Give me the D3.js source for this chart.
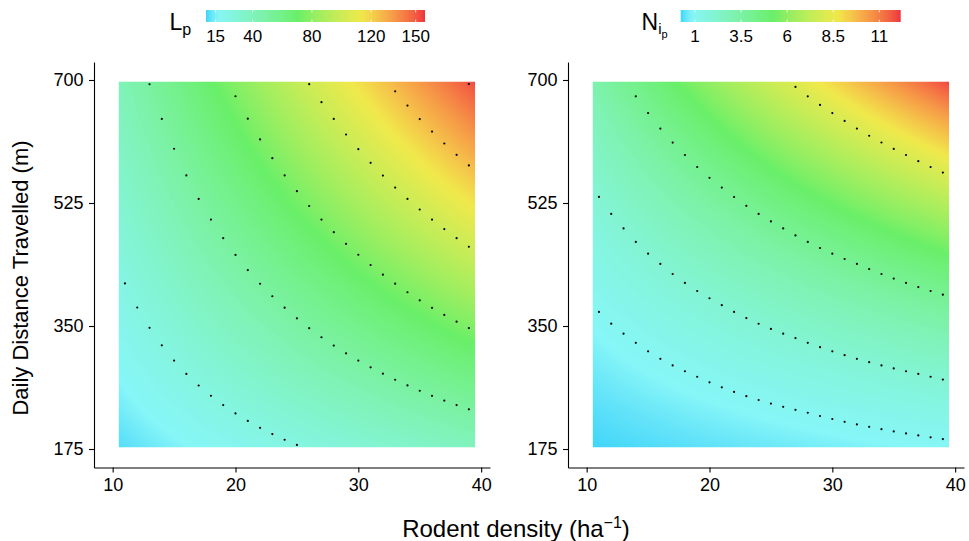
<!DOCTYPE html>
<html><head><meta charset="utf-8">
<script src="https://cdn.jsdelivr.net/npm/d3@7"></script>
<style>
body{margin:0;background:#fff}
svg{display:block}
text{font-family:"Liberation Sans",Arial,Helvetica,sans-serif;fill:#000}
</style>
</head><body>
<svg id="chart" width="969" height="541"></svg>
<script>
// ---------------- data ----------------
const densityGrid = [10, 15, 20, 25, 30, 35, 40];
const distanceGrid = [175, 227.5, 280, 332.5, 385, 437.5, 490, 542.5, 595, 647.5, 700];
// L_p : one row per density value, columns follow distanceGrid
const lpValues = [
  [9.7, 12.6, 15.5, 18.4, 21.3, 24.2, 27.1, 30.1, 33.0, 35.9, 38.8],
  [14.5, 18.9, 23.3, 27.6, 32.0, 36.4, 40.7, 45.1, 49.4, 53.8, 58.2],
  [19.4, 25.2, 31.0, 36.8, 42.7, 48.5, 54.3, 60.1, 65.9, 71.7, 77.6],
  [24.2, 31.5, 38.8, 46.1, 53.3, 60.6, 67.9, 75.1, 82.4, 89.7, 97.0],
  [29.1, 37.8, 46.5, 55.3, 64.0, 72.7, 81.4, 90.2, 98.9, 107.6, 116.3],
  [33.9, 44.1, 54.3, 64.5, 74.7, 84.8, 95.0, 105.2, 115.4, 125.6, 135.7],
  [38.8, 50.4, 62.1, 73.7, 85.3, 97.0, 108.6, 120.2, 131.9, 143.5, 155.1]
];
// N_ip : one row per density value, columns follow distanceGrid
const niValues = [
  [0.218, 0.360, 0.533, 0.739, 0.977, 1.246, 1.545, 1.874, 2.234, 2.623, 3.042],
  [0.328, 0.539, 0.800, 1.109, 1.465, 1.868, 2.317, 2.811, 3.351, 3.935, 4.563],
  [0.437, 0.719, 1.067, 1.479, 1.954, 2.491, 3.089, 3.749, 4.468, 5.247, 6.084],
  [0.546, 0.899, 1.334, 1.849, 2.442, 3.114, 3.862, 4.686, 5.585, 6.558, 7.605],
  [0.655, 1.079, 1.600, 2.218, 2.931, 3.737, 4.634, 5.623, 6.702, 7.870, 9.126],
  [0.764, 1.258, 1.867, 2.588, 3.419, 4.359, 5.407, 6.560, 7.819, 9.181, 10.647],
  [0.874, 1.438, 2.134, 2.958, 3.908, 4.982, 6.179, 7.497, 8.936, 10.493, 12.168]
];
const lpLevels = [25, 50, 75, 100, 125, 150];
const niLevels = [1, 2, 4, 8];
const lpTicks = [15, 40, 80, 120, 150];
const niTicks = [1, 3.5, 6, 8.5, 11];
const lpLimits = [8.5, 156.3];
const niLimits = [0.22, 12.16];
const densityTicks = [10, 20, 30, 40];
const distanceTicks = [175, 350, 525, 700];
const rasterDensity = [10.5, 39.5];
const rasterDistance = [177.5, 697.5];
const paletteStops = [0, 0.05, 0.42, 0.71, 1];
const paletteColours = ["#3ed5f9", "#86f6f8", "#69ef69", "#f0e94b", "#ef3340"];

// ---------------- drawing ----------------
const svg = d3.select("#chart");
const palette = d3.scaleLinear().domain(paletteStops).range(paletteColours).interpolate(d3.interpolateLab).clamp(true);

function bilinear(values, x, y) {
  const nx = densityGrid.length, ny = distanceGrid.length;
  let i = Math.max(0, Math.min(nx - 2, d3.bisectRight(densityGrid, x) - 1));
  let j = Math.max(0, Math.min(ny - 2, d3.bisectRight(distanceGrid, y) - 1));
  const tx = (x - densityGrid[i]) / (densityGrid[i + 1] - densityGrid[i]);
  const ty = (y - distanceGrid[j]) / (distanceGrid[j + 1] - distanceGrid[j]);
  return (1 - tx) * (1 - ty) * values[i][j] + tx * (1 - ty) * values[i + 1][j] +
         (1 - tx) * ty * values[i][j + 1] + tx * ty * values[i + 1][j + 1];
}

const yScale = d3.scaleLinear().domain([148.7, 725.6]).range([467.5, 62]);

const panels = [
  { values: lpValues, levels: lpLevels, ticks: lpTicks, limits: lpLimits,
    xRange: [94, 490], barRange: [206, 425] },
  { values: niValues, levels: niLevels, ticks: niTicks, limits: niLimits,
    xRange: [568, 964], barRange: [680.7, 900.7] }
];

const defs = svg.append("defs");

panels.forEach((p, k) => {
  const xScale = d3.scaleLinear().domain([8.48, 40.72]).range(p.xRange);
  const colour = v => palette((v - p.limits[0]) / (p.limits[1] - p.limits[0]));

  // raster
  const x0 = xScale(rasterDensity[0]), x1 = xScale(rasterDensity[1]);
  const y0 = yScale(rasterDistance[1]), y1 = yScale(rasterDistance[0]);
  const W = Math.round(x1 - x0), H = Math.round(y1 - y0);
  const canvas = document.createElement("canvas");
  canvas.width = W; canvas.height = H;
  const ctx = canvas.getContext("2d");
  const img = ctx.createImageData(W, H);
  for (let py = 0; py < H; py++) {
    const dy = yScale.invert(y0 + (py + 0.5) * (y1 - y0) / H);
    for (let px = 0; px < W; px++) {
      const dx = xScale.invert(x0 + (px + 0.5) * (x1 - x0) / W);
      const c = d3.rgb(colour(bilinear(p.values, dx, dy)));
      const o = (py * W + px) * 4;
      img.data[o] = c.r; img.data[o + 1] = c.g; img.data[o + 2] = c.b; img.data[o + 3] = 255;
    }
  }
  ctx.putImageData(img, 0, 0);
  svg.append("image").attr("x", x0).attr("y", y0).attr("width", x1 - x0).attr("height", y1 - y0)
    .attr("preserveAspectRatio", "none").attr("href", canvas.toDataURL());

  // contour dots at integer densities
  const dots = [];
  p.levels.forEach(level => {
    for (let d = Math.ceil(rasterDensity[0]); d <= Math.floor(rasterDensity[1]); d++) {
      let lo = rasterDistance[0], hi = rasterDistance[1];
      if (bilinear(p.values, d, lo) > level || bilinear(p.values, d, hi) < level) continue;
      for (let it = 0; it < 50; it++) {
        const mid = (lo + hi) / 2;
        if (bilinear(p.values, d, mid) < level) lo = mid; else hi = mid;
      }
      dots.push([d, (lo + hi) / 2]);
    }
  });
  svg.append("g").selectAll("circle").data(dots).join("circle")
    .attr("cx", d => xScale(d[0])).attr("cy", d => yScale(d[1])).attr("r", 1.1).attr("fill", "#000");

  // axes
  const gx = svg.append("g").attr("transform", "translate(0,467.5)")
    .call(d3.axisBottom(xScale).tickValues(densityTicks).tickSize(5).tickSizeOuter(0).tickPadding(6));
  const gy = svg.append("g").attr("transform", `translate(${p.xRange[0]},0)`)
    .call(d3.axisLeft(yScale).tickValues(distanceTicks).tickSize(5).tickSizeOuter(0).tickPadding(5.5));
  [gx, gy].forEach(g => {
    g.select(".domain").attr("stroke", "#000").attr("stroke-width", 1.1);
    g.selectAll(".tick line").attr("stroke", "#000").attr("stroke-width", 1.1);
    g.selectAll(".tick text").attr("font-size", 18).attr("fill", "#000")
      .attr("font-family", "'Liberation Sans',Arial,sans-serif");
  });

  // colour bar
  const gradId = "grad" + k;
  const grad = defs.append("linearGradient").attr("id", gradId).attr("x1", "0%").attr("x2", "100%");
  d3.range(0, 1.0001, 0.02).forEach(t => {
    grad.append("stop").attr("offset", (t * 100) + "%").attr("stop-color", palette(t));
  });
  svg.append("rect").attr("x", p.barRange[0]).attr("y", 10).attr("width", p.barRange[1] - p.barRange[0])
    .attr("height", 12).attr("fill", `url(#${gradId})`);
  const bScale = d3.scaleLinear().domain(p.limits).range(p.barRange);
  const tg = svg.append("g");
  p.ticks.forEach(t => {
    const x = bScale(t);
    tg.append("line").attr("x1", x).attr("x2", x).attr("y1", 10).attr("y2", 12.4)
      .attr("stroke", "#fff").attr("stroke-width", 1).attr("opacity", 0.8);
    tg.append("line").attr("x1", x).attr("x2", x).attr("y1", 19.6).attr("y2", 22)
      .attr("stroke", "#fff").attr("stroke-width", 1).attr("opacity", 0.8);
    tg.append("text").attr("x", x).attr("y", 41.5).attr("text-anchor", "middle")
      .attr("font-size", 17).text(t);
  });
});

// legend titles
const lt = svg.append("text").attr("x", 169.5).attr("y", 29.5).attr("font-size", 23).text("L");
lt.append("tspan").attr("font-size", 16).attr("dy", 5).text("p");
const nt = svg.append("text").attr("x", 641.5).attr("y", 30).attr("font-size", 23).text("N");
nt.append("tspan").attr("font-size", 15).attr("dy", 4).text("i");
nt.append("tspan").attr("font-size", 11).attr("dy", 4).text("p");

// axis titles
svg.append("text").attr("transform", "translate(28,278) rotate(-90)").attr("text-anchor", "middle")
  .attr("font-size", 22).text("Daily Distance Travelled (m)");
const xt = svg.append("text").attr("x", 516).attr("y", 537).attr("text-anchor", "middle").attr("font-size", 24)
  .text("Rodent density (ha");
xt.append("tspan").attr("font-size", 16).attr("dy", -9).text("\u22121");
xt.append("tspan").attr("dy", 9).text(")");
</script>
</body></html>
